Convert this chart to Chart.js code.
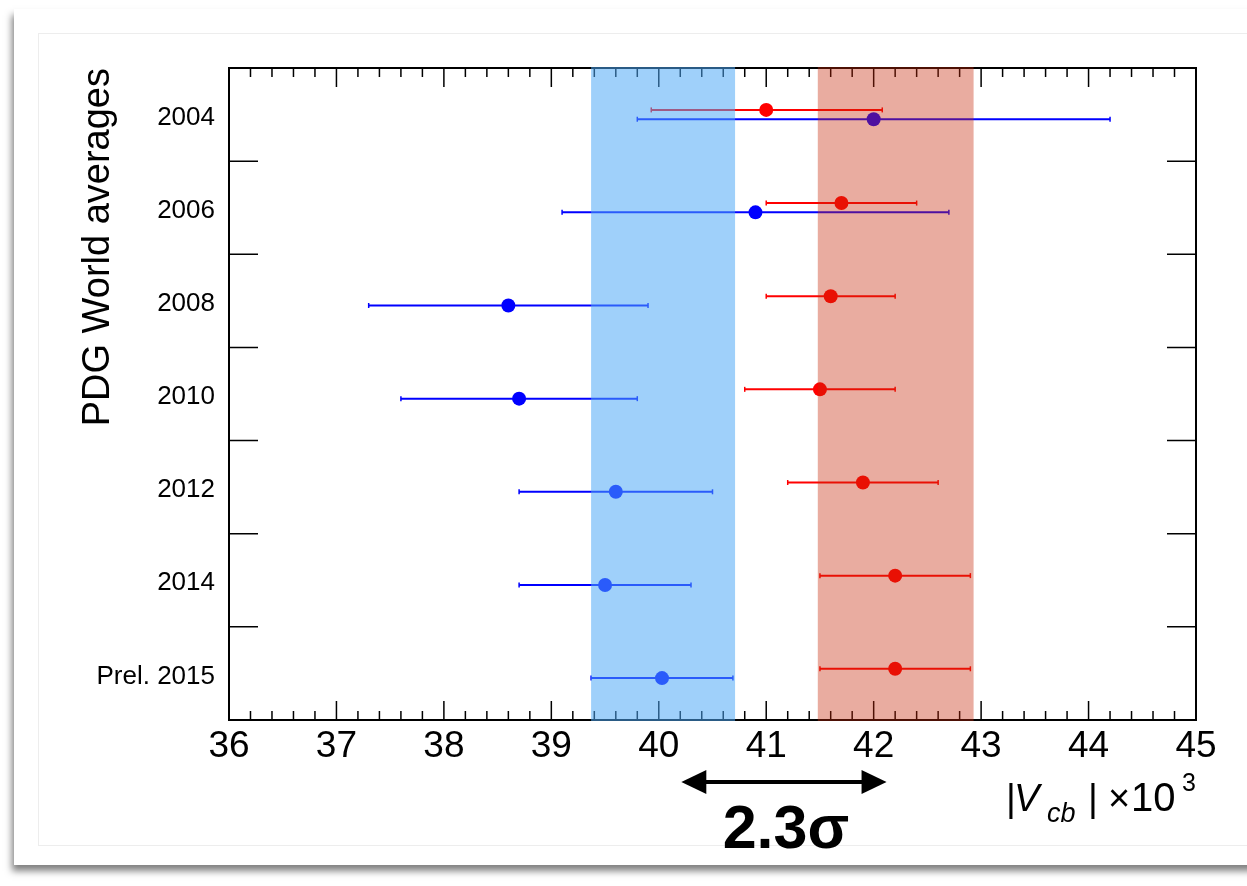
<!DOCTYPE html>
<html><head><meta charset="utf-8">
<script src="https://cdn.jsdelivr.net/npm/chart.js@4.4.0/dist/chart.umd.min.js"></script>
<style>
html,body{margin:0;padding:0;background:#fff;width:1247px;height:886px;overflow:hidden;}
#card{position:absolute;left:14px;top:9px;width:1260px;height:856px;background:#fff;box-shadow:-2px 6px 7px rgba(0,0,0,0.5);}
#inner{position:absolute;left:38px;top:33px;width:1240px;height:811px;border:1px solid #ededed;background:#fff;}
#wrap{position:absolute;left:0;top:0;width:1247px;height:886px;}
</style></head>
<body>
<div id="card"></div><div id="inner"></div>
<div id="wrap"><canvas id="c" width="1247" height="886"></canvas></div>
<script>
// ---- data ----
const years = ['2004', '2006', '2008', '2010', '2012', '2014', 'Prel. 2015'];
const redVal  = [41.0, 41.7, 41.6, 41.5, 41.9, 42.2, 42.2];
const redLo   = [39.93, 41.0, 41.0, 40.8, 41.2, 41.5, 41.5];
const redHi   = [42.08, 42.4, 42.2, 42.2, 42.6, 42.9, 42.9];
const blueVal = [42.0, 40.9, 38.6, 38.7, 39.6, 39.5, 40.03];
const blueLo  = [39.8, 39.1, 37.3, 37.6, 38.7, 38.7, 39.37];
const blueHi  = [44.2, 42.7, 39.9, 39.8, 40.5, 40.3, 40.69];
const blueBand = [39.37, 40.71];
const redBand  = [41.48, 42.93];
const sigmaArrow = [40.21, 42.12];
const sigmaLabel = '2.3σ';
const xTickValues = [36, 37, 38, 39, 40, 41, 42, 43, 44, 45];
const yTitle = 'PDG World averages';

const FAM = '"Liberation Sans", Arial, Helvetica, sans-serif';
const nRows = years.length;
const rowY = i => nRows - i - 0.5;
const redOff = 0.05, blueOff = -0.05;
const RED = '#ff0000', BLUE = '#0000ff';

const datasets = [];
datasets.push({
  label: 'red', data: redVal.map((v, i) => ({x: v, y: rowY(i) + redOff})),
  pointRadius: 7, pointBackgroundColor: RED, pointBorderWidth: 0, showLine: false
});
datasets.push({
  label: 'blue', data: blueVal.map((v, i) => ({x: v, y: rowY(i) + blueOff})),
  pointRadius: 7, pointBackgroundColor: BLUE, pointBorderWidth: 0, showLine: false
});
function errBar(lo, hi, yy, col) {
  return {
    data: [{x: lo, y: yy}, {x: hi, y: yy}], showLine: true,
    borderColor: col, borderWidth: 2, pointStyle: 'line', pointRotation: 90,
    pointRadius: 2.5, pointBorderColor: col, pointBorderWidth: 1.5, fill: false
  };
}
years.forEach((_, i) => {
  datasets.push(errBar(redLo[i], redHi[i], rowY(i) + redOff, RED));
  datasets.push(errBar(blueLo[i], blueHi[i], rowY(i) + blueOff, BLUE));
});

const framePlugin = {
  id: 'frame',
  beforeDatasetsDraw(chart) {
    const {ctx, chartArea: {left, right, top, bottom}, scales: {x, y}} = chart;
    ctx.save();
    ctx.strokeStyle = '#000';
    ctx.lineWidth = 1.5;
    ctx.beginPath();
    const nMinor = Math.round((x.max - x.min) / 0.2);
    for (let k = 1; k < nMinor; k++) {
      const px = x.getPixelForValue(x.min + k * 0.2);
      const len = (k % 5 === 0) ? 19 : 9;
      ctx.moveTo(px, bottom); ctx.lineTo(px, bottom - len);
      ctx.moveTo(px, top); ctx.lineTo(px, top + len);
    }
    for (let r = 1; r < nRows; r++) {
      const py = y.getPixelForValue(r);
      ctx.moveTo(left, py); ctx.lineTo(left + 29, py);
      ctx.moveTo(right, py); ctx.lineTo(right - 29, py);
    }
    ctx.stroke();
    ctx.lineWidth = 2;
    ctx.strokeRect(left, top, right - left, bottom - top);
    ctx.restore();
  },
  afterDatasetsDraw(chart) {
    const {ctx, chartArea: {top, bottom}, scales: {x}} = chart;
    ctx.save();
    let a = x.getPixelForValue(blueBand[0]), b = x.getPixelForValue(blueBand[1]);
    ctx.fillStyle = 'rgba(78,168,246,0.54)';
    ctx.fillRect(a, top - 1, b - a, bottom - top + 2);
    a = x.getPixelForValue(redBand[0]); b = x.getPixelForValue(redBand[1]);
    ctx.fillStyle = 'rgba(198,41,10,0.39)';
    ctx.fillRect(a, top - 1, b - a, bottom - top + 2);
    ctx.restore();
  },
  afterDraw(chart) {
    const {ctx, scales: {x}} = chart;
    ctx.save();
    // arrow
    const x1 = x.getPixelForValue(sigmaArrow[0]), x2 = x.getPixelForValue(sigmaArrow[1]);
    const ay = 782, hl = 25, hh = 12;
    ctx.strokeStyle = '#000'; ctx.fillStyle = '#000'; ctx.lineWidth = 4;
    ctx.beginPath(); ctx.moveTo(x1 + hl - 2, ay); ctx.lineTo(x2 - hl + 2, ay); ctx.stroke();
    ctx.beginPath(); ctx.moveTo(x1, ay); ctx.lineTo(x1 + hl, ay - hh); ctx.lineTo(x1 + hl, ay + hh); ctx.closePath(); ctx.fill();
    ctx.beginPath(); ctx.moveTo(x2, ay); ctx.lineTo(x2 - hl, ay - hh); ctx.lineTo(x2 - hl, ay + hh); ctx.closePath(); ctx.fill();
    // 2.3 sigma
    ctx.font = 'bold 61px ' + FAM;
    ctx.textAlign = 'center'; ctx.textBaseline = 'alphabetic';
    ctx.fillText(sigmaLabel, (x1 + x2) / 2 + 2, 848);
    // x axis title |V_cb| x 10^3
    ctx.textAlign = 'left';
    const pieces = [
      ['|', 'normal 38px ', 1006, 811],
      ['V', 'italic 38px ', 1014, 811],
      ['cb', 'italic 27px ', 1047, 822],
      ['|', 'normal 38px ', 1088, 811],
      ['×', 'normal 38px ', 1108, 811],
      ['10', 'normal 40px ', 1131, 811],
      ['3', 'normal 25px ', 1182, 791]
    ];
    pieces.forEach(p => { ctx.font = p[1] + FAM; ctx.fillText(p[0], p[2], p[3]); });
    ctx.restore();
  }
};

new Chart(document.getElementById('c'), {
  type: 'scatter',
  data: {datasets},
  options: {
    responsive: false, animation: false, devicePixelRatio: 1,
    events: [],
    layout: {padding: {top: 68, right: 51, bottom: 0, left: 0}},
    plugins: {legend: {display: false}, tooltip: {enabled: false}},
    scales: {
      x: {
        type: 'linear', min: 36, max: 45,
        grid: {display: false, drawTicks: false}, border: {display: false},
        afterBuildTicks: s => { s.ticks = xTickValues.map(v => ({value: v})); },
        ticks: {font: {size: 37, family: FAM}, color: '#000', padding: 5, maxRotation: 0, autoSkip: false},
        afterFit: s => { s.height = 166; s.paddingLeft = 0; s.paddingRight = 0; }
      },
      y: {
        type: 'linear', min: 0, max: nRows,
        grid: {display: false, drawTicks: false}, border: {display: false},
        afterBuildTicks: s => { s.ticks = years.map((_, i) => ({value: rowY(i)})); },
        ticks: {
          font: {size: 26, family: FAM}, color: '#000', padding: 14, autoSkip: false, labelOffset: 3,
          callback: v => years[Math.round(nRows - 0.5 - v)]
        },
        title: {display: true, text: yTitle, align: 'end', color: '#000',
                font: {size: 38, family: FAM}, padding: {top: 76, bottom: 0}},
        afterFit: s => { s.width = 229; s.paddingTop = 0; s.paddingBottom = 0; }
      }
    }
  },
  plugins: [framePlugin]
});
</script>
</body></html>
